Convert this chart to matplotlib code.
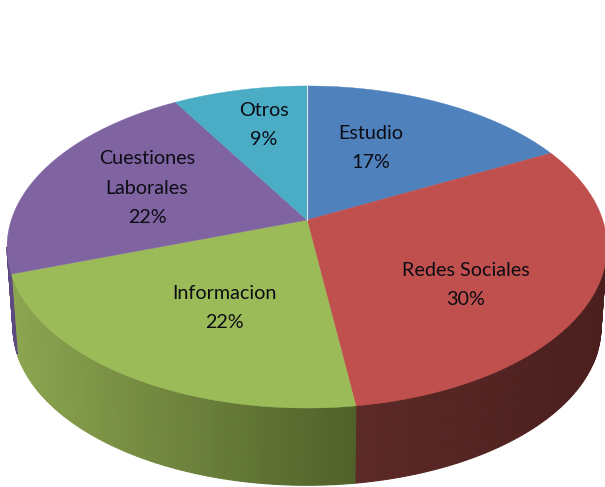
#!/usr/bin/env python3

import numpy as np
import matplotlib
matplotlib.use("Agg")
import matplotlib.pyplot as plt
from matplotlib.colors import to_rgb

# slices clockwise from 12 o'clock, share of the whole in percent
categories = ["Estudio", "Redes Sociales", "Informacion", "Cuestiones\nLaborales", "Otros"]
values = [17.4, 30.4, 21.9, 21.8, 8.5]
pct_labels = ["17%", "30%", "22%", "22%", "9%"]

colors = ["#4f81bd", "#c0504d", "#9bbb59", "#8064a2", "#4bacc6"]
# side colour at the left and right end of the visible wall of each slice
side_colors = {
    1: ("#5c2a27", "#4a1f1e"),
    2: ("#8ca550", "#4f6029"),
    3: ("#5f4a80", "#5f4a80"),
}
label_pos = [(371, 148), (466, 285), (224, 308), (147, 188), (264, 125)]

# perspective of the pie, in pixels
CX, CY = 307, 220
RX, RY = 295.7, 156.5
PERSP = 0.1677
BOTTOM_DY = 81
BOTTOM_SCALE = 0.98


def rim(t, dy=0.0, scale=1.0):
    u, v = np.sin(t), np.cos(t)
    d = 1 + PERSP * v
    return CX + scale * RX * u / d, CY + dy - scale * RY * v / d


def main():
    fig = plt.figure(figsize=(6.05, 4.87), dpi=100)
    ax = fig.add_axes([0, 0, 1, 1])
    ax.set_xlim(0, 605)
    ax.set_ylim(487, 0)
    ax.axis("off")

    edges = np.radians(np.cumsum([0] + values) * 3.6)
    t_right = np.pi - np.arccos(PERSP)
    t_left = np.pi + np.arccos(PERSP)

    # walls first, only the part facing the viewer
    for i, (c0, c1) in side_colors.items():
        a, b = max(edges[i], t_right), min(edges[i + 1], t_left)
        ts = np.linspace(a, b, int((b - a) * 60) + 2)
        x_all = rim(ts)[0]
        x_lo, x_hi = x_all.min(), x_all.max()
        c0, c1 = np.array(to_rgb(c0)), np.array(to_rgb(c1))
        for t0, t1 in zip(ts[:-1], ts[1:]):
            xa, ya = rim(np.array([t0, t1]))
            xb, yb = rim(np.array([t1, t0]), BOTTOM_DY, BOTTOM_SCALE)
            f = (0.5 * (xa[0] + xa[1]) - x_lo) / max(x_hi - x_lo, 1)
            col = c0 + (c1 - c0) * f
            ax.fill(np.r_[xa, xb], np.r_[ya, yb], color=col, lw=0.8, zorder=1)

    # top face
    for i, col in enumerate(colors):
        ts = np.linspace(edges[i], edges[i + 1], 200)
        x, y = rim(ts)
        ax.fill(np.r_[CX, x], np.r_[CY, y], color=col, lw=0.3, zorder=2)

    # thin light seam at 12 o'clock
    x, y = rim(np.array([0.0]))
    ax.plot([CX, x[0]], [CY, y[0]], color="#dbe5f1", lw=0.8, zorder=3)

    for name, pct, (x, y) in zip(categories, pct_labels, label_pos):
        ax.text(x, y, f"{name}\n{pct}", ha="center", va="center", fontsize=14.2,
                family="Lato", color="#0c0c14", linespacing=1.9, zorder=4)

    fig.savefig("out.png", dpi=100)
    plt.close(fig)


if __name__ == "__main__":
    main()
